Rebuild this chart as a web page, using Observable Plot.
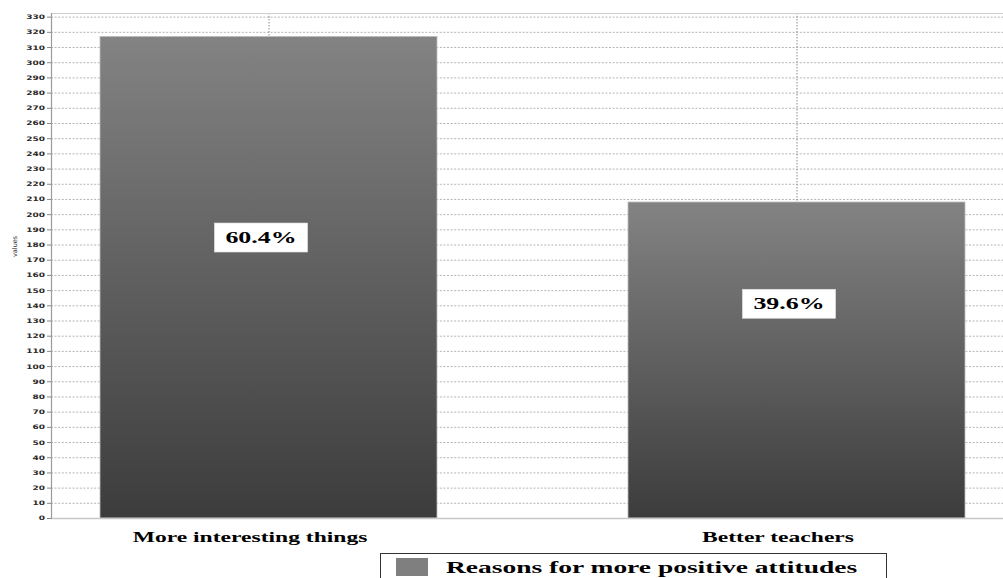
<!DOCTYPE html>
<html>
<head>
<meta charset="utf-8">
<script src="https://cdn.jsdelivr.net/npm/d3@7"></script>
<script src="https://cdn.jsdelivr.net/npm/@observablehq/plot@0.6"></script>
<style>
  html, body { margin: 0; padding: 0; background: #fff; overflow: hidden; }
  #chart { position: relative; width: 1003px; height: 578px; }
  .legend { position: absolute; left: 380px; top: 553px; width: 507px; height: 34px;
            border: 1px solid #333; box-sizing: border-box; background: #fff; }
  .legend .swatch { position: absolute; left: 15px; top: 4px; width: 32px; height: 18px; background: #7f7f7f; }
  .legend .name { position: absolute; left: 65px; top: 5px; font: bold 17.5px "Liberation Serif", serif;
                  line-height: 17.5px; white-space: nowrap; color: #000;
                  transform: scaleX(1.57); transform-origin: left center; }
</style>
</head>
<body>
<div id="chart"></div>
<script>
// Survey answers: reasons given for a more positive attitude
const categories = ["More interesting things", "Better teachers"];
const counts = [317, 208];
const shares = ["60.4%", "39.6%"];
const seriesName = "Reasons for more positive attitudes";
const yTicks = d3.range(0, 331, 10);
const yMax = 332.4;

const rows = categories.map((category, i) => ({category, count: counts[i], share: shares[i]}));

// glyphs in this chart are drawn horizontally widened
const widen = 1.57;

const chart = Plot.plot({
  width: 1003,
  height: 553,
  marginLeft: 51,
  marginRight: 0,
  marginTop: 13,
  marginBottom: 35,
  style: {background: "#fff", overflow: "visible"},
  x: {domain: categories, range: [51, 1014], paddingInner: 0.362, paddingOuter: 0.0924, label: null},
  y: {domain: [0, yMax], label: null},
  marks: [
    Plot.gridY({ticks: yTicks, stroke: "#b4b4b4", strokeOpacity: 1, strokeDasharray: "2,1.6"}),
    Plot.gridX({stroke: "#8a8a8a", strokeOpacity: 1, strokeDasharray: "1.5,1.5"}),
    Plot.frame({anchor: "top", stroke: "#cfcfcf"}),
    Plot.barY(rows, {x: "category", y: "count", fill: "url(#barShade)", stroke: "#bdbdbd", strokeWidth: 0.8}),
    Plot.frame({anchor: "bottom", stroke: "#c8c8c8", strokeWidth: 1.5}),
    Plot.frame({anchor: "left", stroke: "#9a9a9a", strokeWidth: 1.2}),
    Plot.axisY({ticks: yTicks, tickSize: 4, tickPadding: 2.5, stroke: "#888",
                fontSize: 6.2, fontWeight: "bold", fontFamily: "DejaVu Sans", fill: "#2a2a2a", label: null}),
    Plot.axisX({tickSize: 0, tickPadding: 13, dx: -19, fontSize: 15, fontWeight: "bold",
                fontFamily: "Liberation Serif", fill: "#000", label: null}),
    Plot.text(["values"], {frameAnchor: "left", rotate: -90, dx: -37, dy: -9,
                fontSize: 6.5, fontFamily: "DejaVu Sans", fill: "#333"}),
    Plot.text(rows, {x: "category", y: d => 0.4 * d.count + 58, text: "share", dx: -8,
                fontSize: 16.5, fontWeight: "bold", fontFamily: "Liberation Serif", fill: "#000"})
  ]
});

const host = document.getElementById("chart");
host.append(chart);

// vertical shading of the bars, light at the top and dark at the base
const grad = d3.select(chart).insert("defs", ":first-child")
  .append("linearGradient").attr("id", "barShade")
  .attr("x1", 0).attr("y1", 0).attr("x2", 0).attr("y2", 1);
grad.append("stop").attr("offset", 0).attr("stop-color", "#838383");
grad.append("stop").attr("offset", 1).attr("stop-color", "#3c3c3c");

function widenText(nodes, k) {
  nodes.forEach(node => {
    const w = node.getComputedTextLength();
    node.setAttribute("textLength", w * k);
    node.setAttribute("lengthAdjust", "spacingAndGlyphs");
  });
}
const allText = Array.from(chart.querySelectorAll("text"));
const tickTexts = allText.filter(t => yTicks.map(String).includes(t.textContent));
const catTexts = allText.filter(t => categories.includes(t.textContent));
const shareTexts = allText.filter(t => shares.includes(t.textContent));
widenText(catTexts, widen);
widenText(tickTexts, 1.45);
widenText(shareTexts, widen);

// white boxes behind the share labels
shareTexts.forEach(node => {
  const bb = node.getBBox();
  const padX = 11, padY = 5;
  const r = document.createElementNS("http://www.w3.org/2000/svg", "rect");
  r.setAttribute("x", bb.x - padX);
  r.setAttribute("y", bb.y - padY);
  r.setAttribute("width", bb.width + 2 * padX);
  r.setAttribute("height", bb.height + 2 * padY);
  r.setAttribute("fill", "#fff");
  r.setAttribute("stroke", "#ddd");
  r.setAttribute("stroke-width", 0.6);
  const t = node.getAttribute("transform");
  if (t) r.setAttribute("transform", t);
  node.parentNode.insertBefore(r, node);
});

// legend
const legend = document.createElement("div");
legend.className = "legend";
legend.innerHTML = `<div class="swatch"></div><div class="name"></div>`;
legend.querySelector(".name").textContent = seriesName;
host.append(legend);
</script>
</body>
</html>
